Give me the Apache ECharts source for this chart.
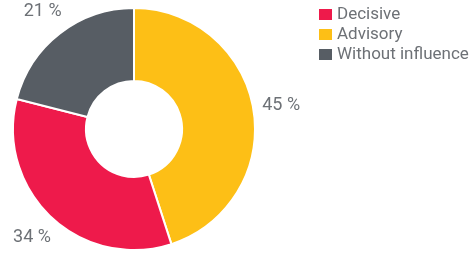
<!DOCTYPE html>
<html>
<head>
<meta charset="utf-8">
<script src="https://cdn.jsdelivr.net/npm/echarts@6/dist/echarts.min.js"></script>
<style>
  html, body { margin: 0; padding: 0; background: #fff; }
  #chart { width: 476px; height: 253px; }
</style>
</head>
<body>
<div id="chart"></div>
<script>
// categories in legend order, values in percent
const categories = ['Decisive', 'Advisory', 'Without influence'];
const values = [34, 45, 21];
const colors = ['#ee1a4b', '#fdbf16', '#575d64'];
// drawing order clockwise from top
const sliceOrder = [1, 0, 2];

const pieData = sliceOrder.map(i => ({
  name: categories[i],
  value: values[i],
  itemStyle: { color: colors[i] }
}));
const labelData = sliceOrder.map(i => ({
  name: categories[i] + ' label',
  value: values[i]
}));

const chart = echarts.init(document.getElementById('chart'));
chart.setOption({
  animation: false,
  legend: {
    orient: 'vertical',
    left: 317,
    top: 6,
    padding: 0,
    data: categories,
    itemWidth: 15,
    itemHeight: 13,
    itemGap: 3,
    icon: 'rect',
    textStyle: { fontFamily: 'Roboto', fontSize: 17, color: '#6d7176', padding: [0, 0, 0, -1] },
    selectedMode: false
  },
  series: [
    {
      type: 'pie',
      center: [134, 129],
      radius: [48, 121],
      startAngle: 90,
      clockwise: true,
      silent: true,
      itemStyle: { borderColor: '#fff', borderWidth: 2 },
      label: { show: false },
      labelLine: { show: false },
      data: pieData
    },
    {
      // transparent ring that only carries the percentage labels
      type: 'pie',
      center: [134, 129],
      radius: [138, 154],
      startAngle: 90,
      clockwise: true,
      silent: true,
      itemStyle: { color: 'rgba(0,0,0,0)', borderWidth: 0 },
      label: {
        show: true,
        position: 'inside',
        formatter: p => p.value + ' %',
        fontFamily: 'Roboto',
        fontSize: 18,
        color: '#6d7176'
      },
      labelLine: { show: false },
      data: labelData
    }
  ]
});
</script>
</body>
</html>
